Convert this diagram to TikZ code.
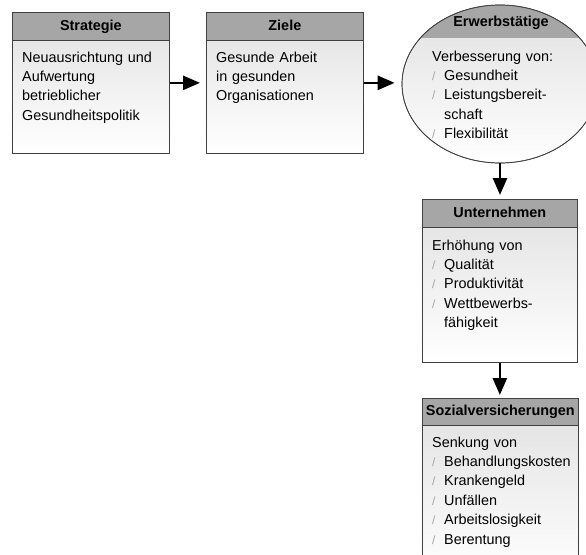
\documentclass[tikz,border=0pt]{standalone}
\usepackage{fontspec}
\setmainfont{Liberation Sans}
\usepackage{xcolor}
\usetikzlibrary{shapes.geometric,arrows.meta}

\tikzset{
	box/.style={draw=black!75, line width=0.7pt, top color=black!12, bottom color=white, anchor=north west, inner sep=0pt},
	kopf/.style={draw=black!75, line width=0.7pt, fill=black!35, minimum height=28pt, anchor=north west, inner sep=0pt, text height=10.5pt, text depth=3pt, font=\bfseries\fontsize{14.4pt}{17pt}\selectfont},
	txt/.style={anchor=base west, inner sep=0pt, align=left, text width=150pt, font=\fontsize{14.4pt}{19.4pt}\selectfont},
	pfeil/.style={line width=2.6pt, -{Triangle[length=17pt,width=14pt]}}
}
\newcommand{\strich}{\makebox[12pt][l]{\textcolor{black!35}{\fontsize{12pt}{12pt}\selectfont /}}}
\newcommand{\einr}{\hspace*{12pt}}

\begin{document}
\begin{tikzpicture}[x=1pt,y=-1pt]
	\clip (0,0) rectangle (586,554);
	
	% Strategie
	\node[box, minimum width=157pt, minimum height=141pt] (strat) at (12,12) {};
	\node[kopf, minimum width=157pt] (strat-k) at (strat.north west) {Strategie};
	\node[txt] (strat-t) at (22,62) {Neuausrichtung und\\Aufwertung\\betrieblicher\\Gesundheitspolitik};
	
	% Ziele
	\node[box, minimum width=157pt, minimum height=141pt] (ziele) at (206,12) {};
	\node[kopf, minimum width=157pt] (ziele-k) at (ziele.north west) {Ziele};
	\node[txt] (ziele-t) at (216,62) {Gesunde Arbeit\\in gesunden\\Organisationen};
	
	% Erwerbstaetige
	\node[ellipse, draw=black!75, line width=0.7pt, top color=black!12, bottom color=white, minimum width=196pt, minimum height=158pt, inner sep=0pt,
		path picture={\fill[black!35] (path picture bounding box.north west) rectangle ([yshift=-33pt]path picture bounding box.north east);}] (erw) at (500,84) {};
	\draw[black!75, line width=0.7pt] (erw.center) ellipse [x radius=98, y radius=79];
	\node[anchor=base, inner sep=0pt, font=\bfseries\fontsize{14.4pt}{17pt}\selectfont] (erw-k) at (501,27) {Erwerbstätige};
	\node[txt] (erw-t) at (432,61) {Verbesserung von:\\\strich Gesundheit\\\strich Leistungsbereit-\\\einr schaft\\\strich Flexibilität};
	
	% Unternehmen
	\node[box, minimum width=155pt, minimum height=163pt] (unt) at (422,199) {};
	\node[kopf, minimum width=155pt] (unt-k) at (unt.north west) {Unternehmen};
	\node[txt] (unt-t) at (432,250) {Erhöhung von\\\strich Qualität\\\strich Produktivität\\\strich Wettbewerbs-\\\einr fähigkeit};
	
	% Sozialversicherungen
	\node[box, minimum width=156pt, minimum height=180pt] (soz) at (422,398) {};
	\node[kopf, minimum width=156pt, minimum height=27pt] (soz-k) at (soz.north west) {Sozialversicherungen};
	\node[txt] (soz-t) at (432,447) {Senkung von\\\strich Behandlungskosten\\\strich Krankengeld\\\strich Unfällen\\\strich Arbeitslosigkeit\\\strich Berentung};
	
	\draw[pfeil, shorten >=6pt] (strat) -- (ziele);
	\draw[pfeil, shorten >=7pt] (ziele) -- (ziele -| erw.west);
	\draw[pfeil, shorten >=4pt] (erw.south) -- (erw.south |- unt.north);
	\draw[pfeil, shorten >=3pt] (unt.south) -- (unt.south |- soz.north);
\end{tikzpicture}
\end{document}
